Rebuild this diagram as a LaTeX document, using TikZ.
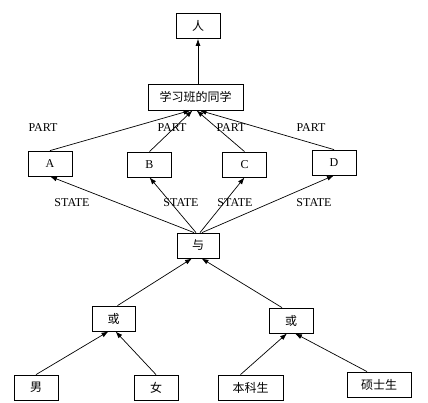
\documentclass[tikz,border=0pt]{standalone}
\usepackage{fontspec}
\setmainfont{Liberation Serif}
\newfontfamily\cjk{Noto Sans CJK SC}
\usetikzlibrary{arrows.meta}
\begin{document}
\begin{tikzpicture}[x=1pt,y=-1pt,font=\fontsize{12}{14}\selectfont,
  box/.style={draw,line width=0.8pt,minimum width=44pt,minimum height=25pt,inner sep=0pt},
  arr/.style={line width=0.7pt,-{Latex[length=7pt,width=5pt]}},
  lbl/.style={inner sep=0pt}]
\useasboundingbox (0,0) rectangle (428,402);
% nodes
\node[box] (ren) at (198,26) {\cjk 人};
\node[box,minimum width=95pt,minimum height=26pt] (cls) at (195.5,97) {\cjk 学习班的同学};
\node[box] (A) at (50,163.5) {A};
\node[box] (B) at (149.5,164.5) {B};
\node[box] (C) at (244.5,164.5) {C};
\node[box] (D) at (334,162.5) {D};
\node[box,minimum width=42pt] (yu) at (198,245.5) {\cjk 与};
\node[box,minimum width=43pt] (orL) at (113.5,318.5) {\cjk 或};
\node[box] (orR) at (291,320.5) {\cjk 或};
\node[box] (nan) at (36,387.5) {\cjk 男};
\node[box] (nv) at (156,387.5) {\cjk 女};
\node[box,minimum width=65pt] (bk) at (250.5,387.5) {\cjk 本科生};
\node[box,minimum width=64pt] (ss) at (379,384.5) {\cjk 硕士生};
% labels
\node[lbl] (p1) at (43,128) {PART};
\node[lbl] (p2) at (172,128) {PART};
\node[lbl] (p3) at (231,128) {PART};
\node[lbl] (p4) at (311,128) {PART};
\node[lbl] (s1) at (72,203) {STATE};
\node[lbl] (s2) at (181,203) {STATE};
\node[lbl] (s3) at (235,203) {STATE};
\node[lbl] (s4) at (314,203) {STATE};
% connectors
\draw[arr] (ren.south |- cls.north) -- (ren.south);
\draw[arr] (A.north) -- ([xshift=-5pt]cls.south);
\draw[arr] (B.north) -- ([xshift=-3pt]cls.south);
\draw[arr] (C.north) -- ([xshift=1pt]cls.south);
\draw[arr] (D.north) -- ([xshift=4pt]cls.south);
\draw[arr] ([xshift=-4pt]yu.north) -- (A.south);
\draw[arr] ([xshift=-2pt]yu.north) -- (B.south);
\draw[arr] ([xshift=2pt]yu.north) -- (C.south);
\draw[arr] ([xshift=4pt]yu.north) -- (D.south);
\draw[arr] ([xshift=4pt]orL.north) -- ([xshift=-6pt]yu.south);
\draw[arr] ([xshift=-9pt]orR.north) -- ([xshift=3.5pt]yu.south);
\draw[arr] (nan.north) -- ([xshift=-5pt]orL.south);
\draw[arr] (nv.north) -- ([xshift=2pt]orL.south);
\draw[arr] ([xshift=-10pt]bk.north) -- ([xshift=-4pt]orR.south);
\draw[arr] ([xshift=-12pt]ss.north) -- ([xshift=4pt]orR.south);
\end{tikzpicture}
\end{document}
